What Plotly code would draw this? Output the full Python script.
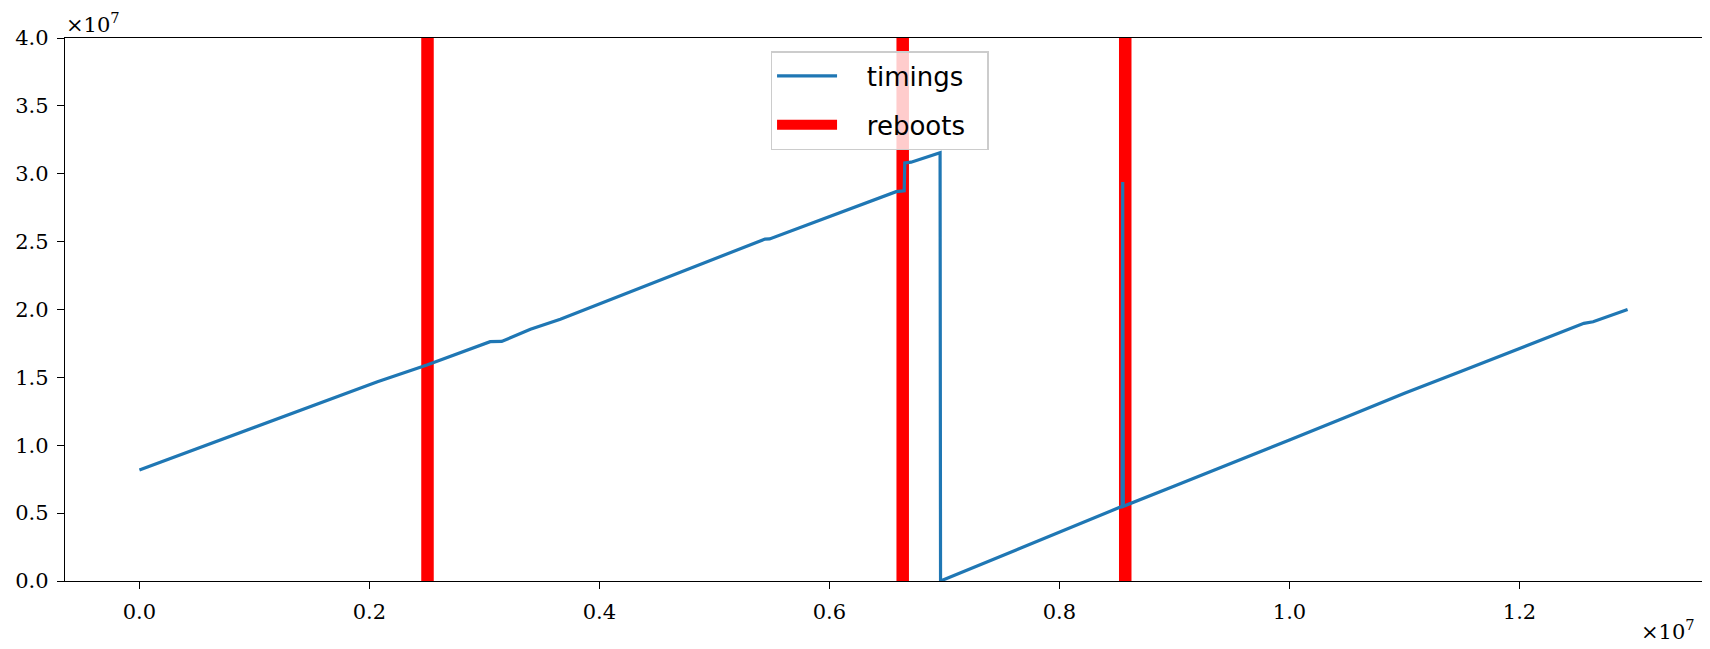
import plotly.graph_objects as go

# ---- data ----
timings_x = [0.000, 0.050, 0.100, 0.150, 0.207, 0.250, 0.305, 0.315, 0.340, 0.366,
             0.400, 0.450, 0.500, 0.544, 0.548, 0.568, 0.600, 0.630, 0.658, 0.665,
             0.6655, 0.671, 0.6955, 0.6962, 0.6966, 0.750, 0.800, 0.8545, 0.8550, 0.8555,
             0.900, 0.950, 0.957, 1.000, 1.050, 1.100, 1.150, 1.200, 1.256, 1.264, 1.294]
timings_y = [0.818, 0.975, 1.130, 1.290, 1.468, 1.591, 1.763, 1.765, 1.854, 1.928,
             2.040, 2.206, 2.372, 2.519, 2.520, 2.583, 2.684, 2.780, 2.868, 2.875,
             3.080, 3.085, 3.155, 3.155, 0.000, 0.186, 0.365, 0.550, 2.940, 0.550,
             0.700, 0.868, 0.891, 1.039, 1.210, 1.383, 1.547, 1.712, 1.898, 1.910, 2.000]
reboots_x = [0.2505, 0.6637, 0.8572]

scale = 1e7
y_min, y_max = 0.0, 4.0
x_ticks = [0.0, 0.2, 0.4, 0.6, 0.8, 1.0, 1.2]
y_ticks = [0.0, 0.5, 1.0, 1.5, 2.0, 2.5, 3.0, 3.5, 4.0]

# ---- build traces ----
rx, ry = [], []
for r in reboots_x:
    rx += [r * scale, r * scale, None]
    ry += [y_min * scale, y_max * scale, None]

gap = "\u00a0\u00a0\u00a0"
fig = go.Figure()
fig.add_trace(go.Scatter(x=rx, y=ry, mode="lines", name=gap + "reboots\u00a0\u00a0",
                         line=dict(color="#ff0000", width=12.5),
                         legendgroup="r", legendrank=2, hoverinfo="skip"))
fig.add_trace(go.Scatter(x=[v * scale for v in timings_x],
                         y=[v * scale for v in timings_y],
                         mode="lines", name=gap + "timings",
                         line=dict(color="#1f77b4", width=3.2),
                         legendgroup="t", legendrank=1))

xmax = max(timings_x)
xmin = min(timings_x)
pad = 0.05 * (xmax - xmin)

tickfont = dict(family="DejaVu Serif", size=21, color="black")
fig.update_xaxes(range=[(xmin - pad) * scale, (xmax + pad) * scale],
                 tickvals=[t * scale for t in x_ticks],
                 ticktext=[f"{t:.1f}" for t in x_ticks],
                 showgrid=False, zeroline=False,
                 showline=True, linecolor="black", linewidth=1.3, mirror=True,
                 ticks="outside", ticklen=7, tickwidth=1.3, tickcolor="black",
                 tickfont=tickfont, ticklabelstandoff=5)
fig.update_yaxes(range=[y_min * scale, y_max * scale],
                 tickvals=[t * scale for t in y_ticks],
                 ticktext=[f"{t:.1f}" for t in y_ticks],
                 showgrid=False, zeroline=False,
                 showline=True, linecolor="black", linewidth=1.3, mirror=True,
                 ticks="outside", ticklen=7, tickwidth=1.3, tickcolor="black",
                 tickfont=tickfont, ticklabelstandoff=4)

fig.add_annotation(x=0, y=1, xref="paper", yref="paper", xanchor="left", yanchor="bottom",
                   text="×10<sup>7</sup>", showarrow=False, yshift=0, borderpad=0,
                   font=dict(family="DejaVu Serif", size=21, color="black"))
fig.add_annotation(x=1, y=0, xref="paper", yref="paper", xanchor="right", yanchor="bottom",
                   text="×10<sup>7</sup>", showarrow=False, yshift=-64, xshift=-6, borderpad=0,
                   font=dict(family="DejaVu Serif", size=21, color="black"))

# page body has an 8px default margin; the figure is sized to compensate
fig.update_layout(
    width=1702, height=641,
    margin=dict(l=55, r=7, t=30, b=68),
    plot_bgcolor="white", paper_bgcolor="white",
    showlegend=True,
    legend=dict(x=0.431, y=0.976, xanchor="left", yanchor="top",
                traceorder="grouped", tracegroupgap=12,
                bgcolor="rgba(255,255,255,0.8)", bordercolor="#cccccc", borderwidth=1.5,
                font=dict(family="DejaVu Sans", size=26, color="black"),
                itemwidth=60),
)

fig.write_html("out.html")
